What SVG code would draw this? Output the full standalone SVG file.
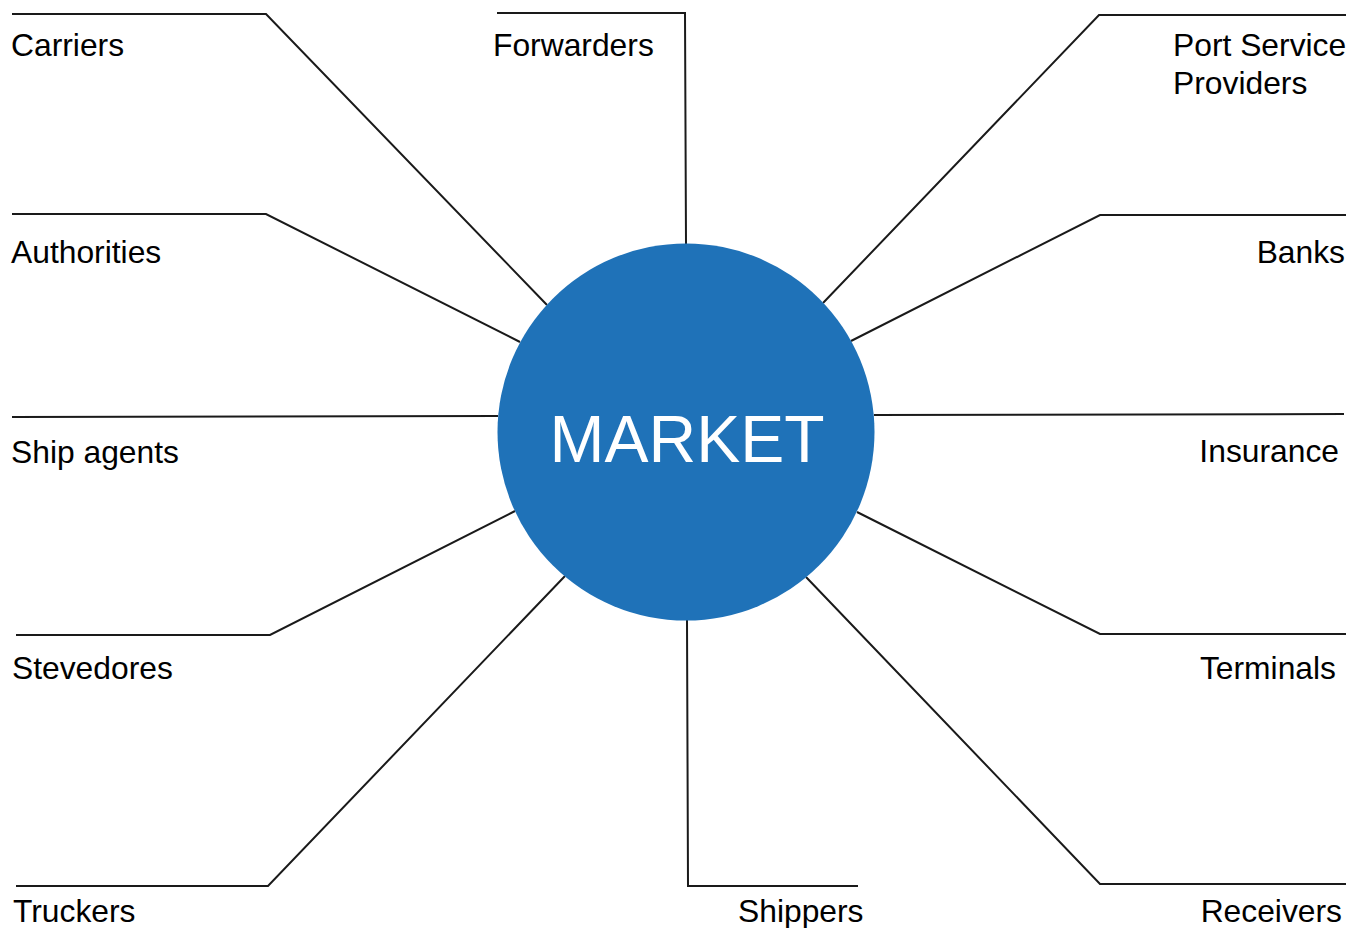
<svg xmlns="http://www.w3.org/2000/svg" width="1349" height="928" viewBox="0 0 1349 928">
<style>
.c{fill:none;stroke:#1a1a1a;stroke-width:2;stroke-linejoin:miter}
.t{font-family:"Liberation Sans",Arial,sans-serif;font-size:31.8px;fill:#000}
.r{text-anchor:end}
.m{font-family:"Liberation Sans",Arial,sans-serif;font-size:66px;fill:#fff;text-anchor:middle}
</style>
<rect width="1349" height="928" fill="#fff"/>
<g id="connectors">
<polyline class="c" points="12,14 266,14 547,305"/>
<polyline class="c" points="497,13 685,13 686,244"/>
<polyline class="c" points="1346,15 1099,15 823,303"/>
<polyline class="c" points="12,214 266,214 520,342"/>
<polyline class="c" points="1346,215 1100,215 851,341"/>
<polyline class="c" points="12,417 498,416"/>
<polyline class="c" points="874,415 1344,414"/>
<polyline class="c" points="16,635 270,635 515,511"/>
<polyline class="c" points="857,512 1100,634 1346,634"/>
<polyline class="c" points="16,886 268,886 565,576"/>
<polyline class="c" points="687,620 688,886 858,886"/>
<polyline class="c" points="806,577 1100,884 1346,884"/>
</g>
<g id="market">
<circle cx="686" cy="432" r="188.5" fill="#1f72b8"/>
<text class="m" x="687" y="462">MARKET</text>
</g>
<g id="carriers"><text class="t" x="11" y="56">Carriers</text></g>
<g id="forwarders"><text class="t" x="493" y="56">Forwarders</text></g>
<g id="port-service-providers"><text class="t" x="1173" y="56">Port Service</text><text class="t" x="1173" y="94">Providers</text></g>
<g id="authorities"><text class="t" x="11" y="263">Authorities</text></g>
<g id="banks"><text class="t r" x="1345" y="263">Banks</text></g>
<g id="ship-agents"><text class="t" x="11" y="463">Ship agents</text></g>
<g id="insurance"><text class="t r" x="1339" y="462">Insurance</text></g>
<g id="stevedores"><text class="t" x="12" y="679">Stevedores</text></g>
<g id="terminals"><text class="t r" x="1336" y="679">Terminals</text></g>
<g id="truckers"><text class="t" x="13" y="922">Truckers</text></g>
<g id="shippers"><text class="t" x="738" y="922">Shippers</text></g>
<g id="receivers"><text class="t r" x="1342" y="922">Receivers</text></g>
</svg>
